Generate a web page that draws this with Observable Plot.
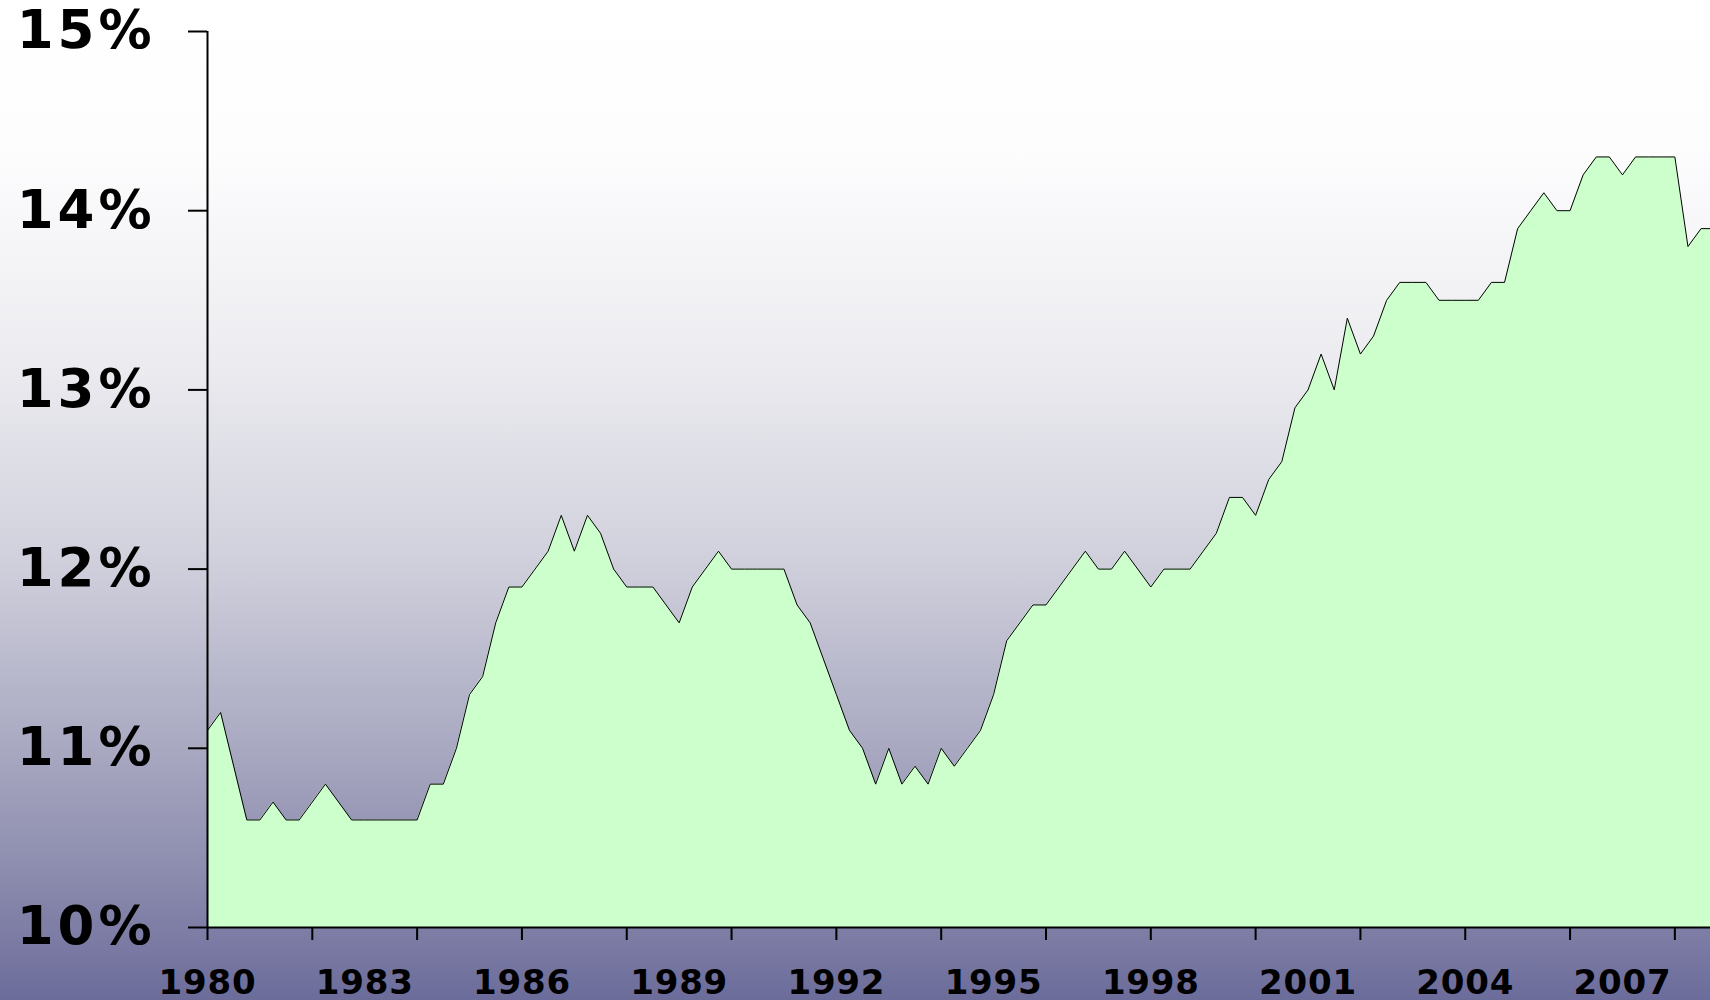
<!DOCTYPE html>
<html>
<head>
<meta charset="utf-8">
<script src="https://cdn.jsdelivr.net/npm/d3@7"></script>
<script src="https://cdn.jsdelivr.net/npm/@observablehq/plot@0.6"></script>
<style>
  html, body { margin: 0; padding: 0; background: #ffffff; }
  #chart svg { display: block; }
  #chart [font-size="53"] text, #chart text[font-size="53"] { letter-spacing: 4px; }
  #chart [font-size="34"] text, #chart text[font-size="34"] { letter-spacing: 0.8px; }
</style>
</head>
<body>
<div id="chart"></div>
<script>
// Quarterly series starting 1980 Q1 (percent)
const startYear = 1980;
const values = [
  11.1, 11.2, 10.9, 10.6,  // 1980
  10.6, 10.7, 10.6, 10.6,  // 1981
  10.7, 10.8, 10.7, 10.6,  // 1982
  10.6, 10.6, 10.6, 10.6,  // 1983
  10.6, 10.8, 10.8, 11.0,  // 1984
  11.3, 11.4, 11.7, 11.9,  // 1985
  11.9, 12.0, 12.1, 12.3,  // 1986
  12.1, 12.3, 12.2, 12.0,  // 1987
  11.9, 11.9, 11.9, 11.8,  // 1988
  11.7, 11.9, 12.0, 12.1,  // 1989
  12.0, 12.0, 12.0, 12.0,  // 1990
  12.0, 11.8, 11.7, 11.5,  // 1991
  11.3, 11.1, 11.0, 10.8,  // 1992
  11.0, 10.8, 10.9, 10.8,  // 1993
  11.0, 10.9, 11.0, 11.1,  // 1994
  11.3, 11.6, 11.7, 11.8,  // 1995
  11.8, 11.9, 12.0, 12.1,  // 1996
  12.0, 12.0, 12.1, 12.0,  // 1997
  11.9, 12.0, 12.0, 12.0,  // 1998
  12.1, 12.2, 12.4, 12.4,  // 1999
  12.3, 12.5, 12.6, 12.9,  // 2000
  13.0, 13.2, 13.0, 13.4,  // 2001
  13.2, 13.3, 13.5, 13.6,  // 2002
  13.6, 13.6, 13.5, 13.5,  // 2003
  13.5, 13.5, 13.6, 13.6,  // 2004
  13.9, 14.0, 14.1, 14.0,  // 2005
  14.0, 14.2, 14.3, 14.3,  // 2006
  14.2, 14.3, 14.3, 14.3,  // 2007
  14.3, 13.8, 13.9, 13.9   // 2008
];
const yTicks = [10, 11, 12, 13, 14, 15];
const xTickMarks = [1980, 1982, 1984, 1986, 1988, 1990, 1992, 1994, 1996, 1998, 2000, 2002, 2004, 2006, 2008];
const xTickLabels = [1980, 1983, 1986, 1989, 1992, 1995, 1998, 2001, 2004, 2007];

const data = values.map((v, i) => ({ t: startYear + i / 4, v }));

const chart = Plot.plot({
  width: 1710,
  height: 1000,
  marginLeft: 207,
  marginRight: 0,
  marginTop: 31,
  marginBottom: 73,
  style: {
    fontFamily: "'DejaVu Sans', Verdana, sans-serif",
    fontWeight: "bold",
    color: "#000",
    background: "linear-gradient(to bottom, #ffffff 0%, #fdfdfe 15%, #ededf1 35%, #d2d2de 55%, #a8a8c1 75%, #8a8aad 88%, #6c6c9b 100%)"
  },
  x: { domain: [1980, 2008.68] },
  y: { domain: [10, 15] },
  marks: [
    Plot.areaY(data, { x: "t", y1: 10, y2: "v", fill: "#ccffcc", clip: true }),
    Plot.lineY(data, { x: "t", y: "v", stroke: "#000", strokeWidth: 1, clip: true }),
    Plot.axisY(yTicks, {
      tickSize: 19, tickPadding: 33, strokeWidth: 2,
      tickFormat: d => d + "%",
      fontSize: 53, fontWeight: "bold", label: null
    }),
    Plot.axisX(xTickMarks, { tickSize: 13, strokeWidth: 2, tickFormat: () => "", label: null }),
    Plot.axisX(xTickLabels, {
      tickSize: 0, tickPadding: 42,
      tickFormat: d => String(d),
      fontSize: 34, fontWeight: "bold", label: null
    }),
    Plot.ruleX([1980], { stroke: "#000", strokeWidth: 2 }),
    Plot.ruleY([10], { stroke: "#000", strokeWidth: 2 })
  ]
});

document.getElementById("chart").appendChild(chart);
</script>
</body>
</html>
